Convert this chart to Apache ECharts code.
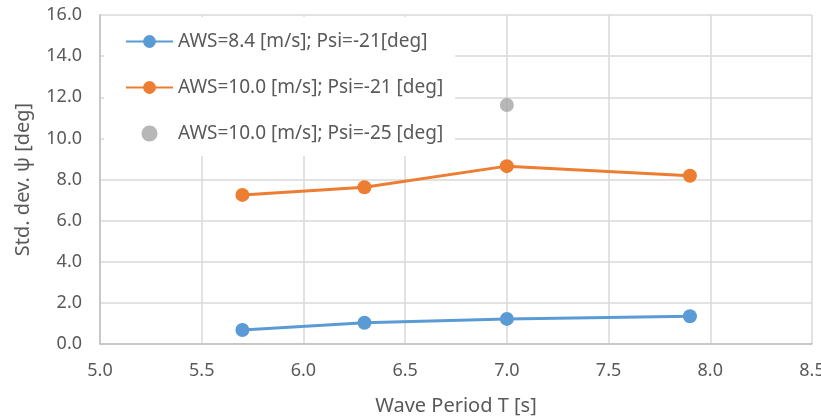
<!DOCTYPE html>
<html>
<head>
<meta charset="utf-8">
<script src="https://cdn.jsdelivr.net/npm/echarts@6/dist/echarts.min.js"></script>
<style>
  html, body { margin: 0; padding: 0; background: #fff; }
  #chart { width: 821px; height: 419px; }
</style>
</head>
<body>
<div id="chart"></div>
<script>
// Wave period [s] for each measured run
const periods = [5.7, 6.3, 7.0, 7.9];
// Standard deviation of heading angle psi [deg]
const aws84psi21 = [0.68, 1.03, 1.22, 1.35];
const aws100psi21 = [7.25, 7.62, 8.65, 8.18];
const aws100psi25Period = [7.0];
const aws100psi25 = [11.62];

const seriesNames = [
  'AWS=8.4 [m/s]; Psi=-21[deg]',
  'AWS=10.0 [m/s]; Psi=-21 [deg]',
  'AWS=10.0 [m/s]; Psi=-25 [deg]'
];

const pairs = (xs, ys) => xs.map((x, i) => [x, ys[i]]);

const FONT = 'Noto Sans';
const TEXT = '#595959';

const chart = echarts.init(document.getElementById('chart'), null, { renderer: 'canvas' });
chart.setOption({
  animation: false,
  backgroundColor: '#fff',
  textStyle: { fontFamily: FONT },
  grid: { left: 100, right: 9, top: 15, bottom: 75, containLabel: false, outerBoundsMode: 'none' },
  xAxis: {
    type: 'value', min: 5, max: 8.5, interval: 0.5,
    name: 'Wave Period T [s]', nameLocation: 'middle', nameGap: 52,
    nameTextStyle: { color: TEXT, fontSize: 20, fontFamily: FONT },
    axisLine: { show: true, lineStyle: { color: '#bfbfbf', width: 1.5 } },
    axisTick: { show: false },
    axisLabel: { color: TEXT, fontSize: 18, margin: 18, formatter: v => v.toFixed(1) },
    splitLine: { show: true, lineStyle: { color: '#d9d9d9', width: 1.5 } }
  },
  yAxis: {
    type: 'value', min: 0, max: 16, interval: 2,
    name: 'Std. dev. ψ [deg]', nameLocation: 'middle', nameGap: 67,
    nameTextStyle: { color: TEXT, fontSize: 20, fontFamily: FONT },
    axisLine: { show: true, lineStyle: { color: '#bfbfbf', width: 1.5 } },
    axisTick: { show: false },
    axisLabel: { color: TEXT, fontSize: 18, margin: 18, formatter: v => v.toFixed(1) },
    splitLine: { show: true, lineStyle: { color: '#d9d9d9', width: 1.5 } }
  },
  legend: {
    orient: 'vertical', left: 104, top: 17,
    backgroundColor: '#fff',
    padding: [15, 12, 13, 21],
    itemGap: 27, itemWidth: 47, itemHeight: 16,
    textStyle: { color: TEXT, fontSize: 19, fontFamily: FONT },
    data: seriesNames
  },
  series: [
    {
      name: seriesNames[0], type: 'line', data: pairs(periods, aws84psi21),
      symbol: 'circle', symbolSize: 14,
      lineStyle: { color: '#5b9bd5', width: 3 },
      itemStyle: { color: '#5b9bd5' }
    },
    {
      name: seriesNames[1], type: 'line', data: pairs(periods, aws100psi21),
      symbol: 'circle', symbolSize: 14,
      lineStyle: { color: '#ed7d31', width: 3 },
      itemStyle: { color: '#ed7d31' }
    },
    {
      name: seriesNames[2], type: 'scatter', data: pairs(aws100psi25Period, aws100psi25),
      symbol: 'circle', symbolSize: 14,
      itemStyle: { color: '#a5a5a5' }
    }
  ]
});
</script>
</body>
</html>
